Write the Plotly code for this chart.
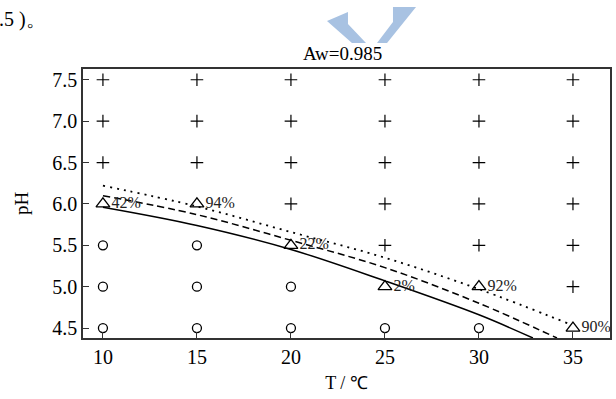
import plotly.graph_objects as go

# ---- data ----
title_text = "Aw=0.985"
x_title = "T / ℃"
y_title = "pH"
x_ticks = [10, 15, 20, 25, 30, 35]
y_ticks = [4.5, 5.0, 5.5, 6.0, 6.5, 7.0, 7.5]
y_ticktext = ["4.5", "5.0", "5.5", "6.0", "6.5", "7.0", "7.5"]

# growth (+) points
plus_T = [10, 10, 10, 15, 15, 15, 20, 20, 20, 20, 25, 25, 25, 25, 25,
          30, 30, 30, 30, 30, 35, 35, 35, 35, 35, 35]
plus_pH = [6.5, 7.0, 7.5, 6.5, 7.0, 7.5, 6.0, 6.5, 7.0, 7.5, 5.5, 6.0, 6.5, 7.0, 7.5,
           5.5, 6.0, 6.5, 7.0, 7.5, 5.0, 5.5, 6.0, 6.5, 7.0, 7.5]

# no-growth (o) points
circ_T = [10, 10, 10, 15, 15, 15, 20, 20, 25, 30]
circ_pH = [4.5, 5.0, 5.5, 4.5, 5.0, 5.5, 4.5, 5.0, 4.5, 4.5]

# partial growth (triangle) points with labels
tri_T = [10, 15, 20, 25, 30, 35]
tri_pH = [6.0, 6.0, 5.5, 5.0, 5.0, 4.5]
tri_lbl = ["42%", "94%", "22%", "2%", "92%", "90%"]

# boundary curves
solid_T = [10, 15, 20, 25, 30, 32.87]
solid_pH = [5.96, 5.74, 5.45, 5.07, 4.66, 4.38]
dash_T = [10, 15, 20, 25, 30, 34.15]
dash_pH = [6.10, 5.87, 5.56, 5.23, 4.80, 4.38]
dot_T = [10, 15, 20, 25, 30, 34.8]
dot_pH = [6.22, 5.97, 5.66, 5.35, 4.97, 4.55]

FONT = "Liberation Serif, Times New Roman, serif"

fig = go.Figure()
fig.add_trace(go.Scatter(x=solid_T, y=solid_pH, mode="lines", line=dict(color="black", width=1.5, shape="spline"), showlegend=False))
fig.add_trace(go.Scatter(x=dash_T, y=dash_pH, mode="lines", line=dict(color="black", width=1.5, dash="7px,4px", shape="spline"), showlegend=False))
fig.add_trace(go.Scatter(x=dot_T, y=dot_pH, mode="lines", line=dict(color="black", width=1.8, dash="2px,5px", shape="spline"), showlegend=False))
fig.add_trace(go.Scatter(x=plus_T, y=plus_pH, mode="markers",
                         marker=dict(symbol="cross-thin", size=9, line=dict(color="black", width=1.2)), showlegend=False))
fig.add_trace(go.Scatter(x=circ_T, y=circ_pH, mode="markers",
                         marker=dict(symbol="circle-open", size=9, color="black", line=dict(width=1.3)), showlegend=False))
fig.add_trace(go.Scatter(x=tri_T, y=tri_pH, mode="markers+text", text=tri_lbl, textposition="middle right",
                         textfont=dict(family=FONT, size=16, color="#222"), cliponaxis=False,
                         marker=dict(symbol="triangle-up-open", size=12, color="black", line=dict(width=1.3)), showlegend=False))

L, R, T, B = 83, 6, 69, 61
W, H = 616, 399
pw, ph = W - L - R, H - T - B

def px(x):
    return (x - L) / pw

def py(y):
    return (H - B - y) / ph

def poly(pts):
    return "M " + " L ".join(f"{px(a):.4f},{py(b):.4f}" for a, b in pts) + " Z"

shapes = [
    dict(type="path", xref="paper", yref="paper", path=poly([(327, 21), (348, 12), (348, 24), (366, 43), (352, 43)]),
         fillcolor="#a8c2e2", line=dict(width=0), layer="above"),
    dict(type="path", xref="paper", yref="paper", path=poly([(393, 7), (416, 7), (387, 43), (377, 43), (393, 22)]),
         fillcolor="#a8c2e2", line=dict(width=0), layer="above"),
]

annotations = [
    dict(text=".5 )。", xref="paper", yref="paper", x=px(-3), y=py(20), xanchor="left", yanchor="middle",
         showarrow=False, font=dict(family=FONT, size=20, color="black")),
    dict(text=title_text, xref="paper", yref="paper", x=px(342), y=py(53), xanchor="center", yanchor="middle",
         showarrow=False, font=dict(family=FONT, size=19, color="black")),
    dict(text=y_title, xref="paper", yref="paper", x=px(21), y=py(203), xanchor="center", yanchor="middle",
         textangle=-90, showarrow=False, font=dict(family=FONT, size=19, color="black")),
]

fig.update_layout(
    width=W, height=H, margin=dict(l=L, r=R, t=T, b=B),
    paper_bgcolor="white", plot_bgcolor="white",
    font=dict(family=FONT, size=20, color="black"),
    shapes=shapes, annotations=annotations,
    xaxis=dict(range=[8.94, 36.97], tickvals=x_ticks, ticks="inside", ticklen=6, tickcolor="#333",
               showline=True, linecolor="#333", linewidth=1.5, mirror=True, showgrid=False, zeroline=False,
               tickfont=dict(size=20), automargin=False,
               title=dict(text=x_title, font=dict(size=18), standoff=10)),
    yaxis=dict(range=[4.38, 7.63], tickvals=y_ticks, ticktext=y_ticktext,
               ticks="inside", ticklen=6, tickcolor="#333", automargin=False,
               showline=True, linecolor="#333", linewidth=1.5, mirror=True, showgrid=False, zeroline=False,
               tickfont=dict(size=20)),
)

fig.write_html("out.html", config={"displayModeBar": False},
               post_script="document.body.style.margin='0';document.body.style.padding='0';")
